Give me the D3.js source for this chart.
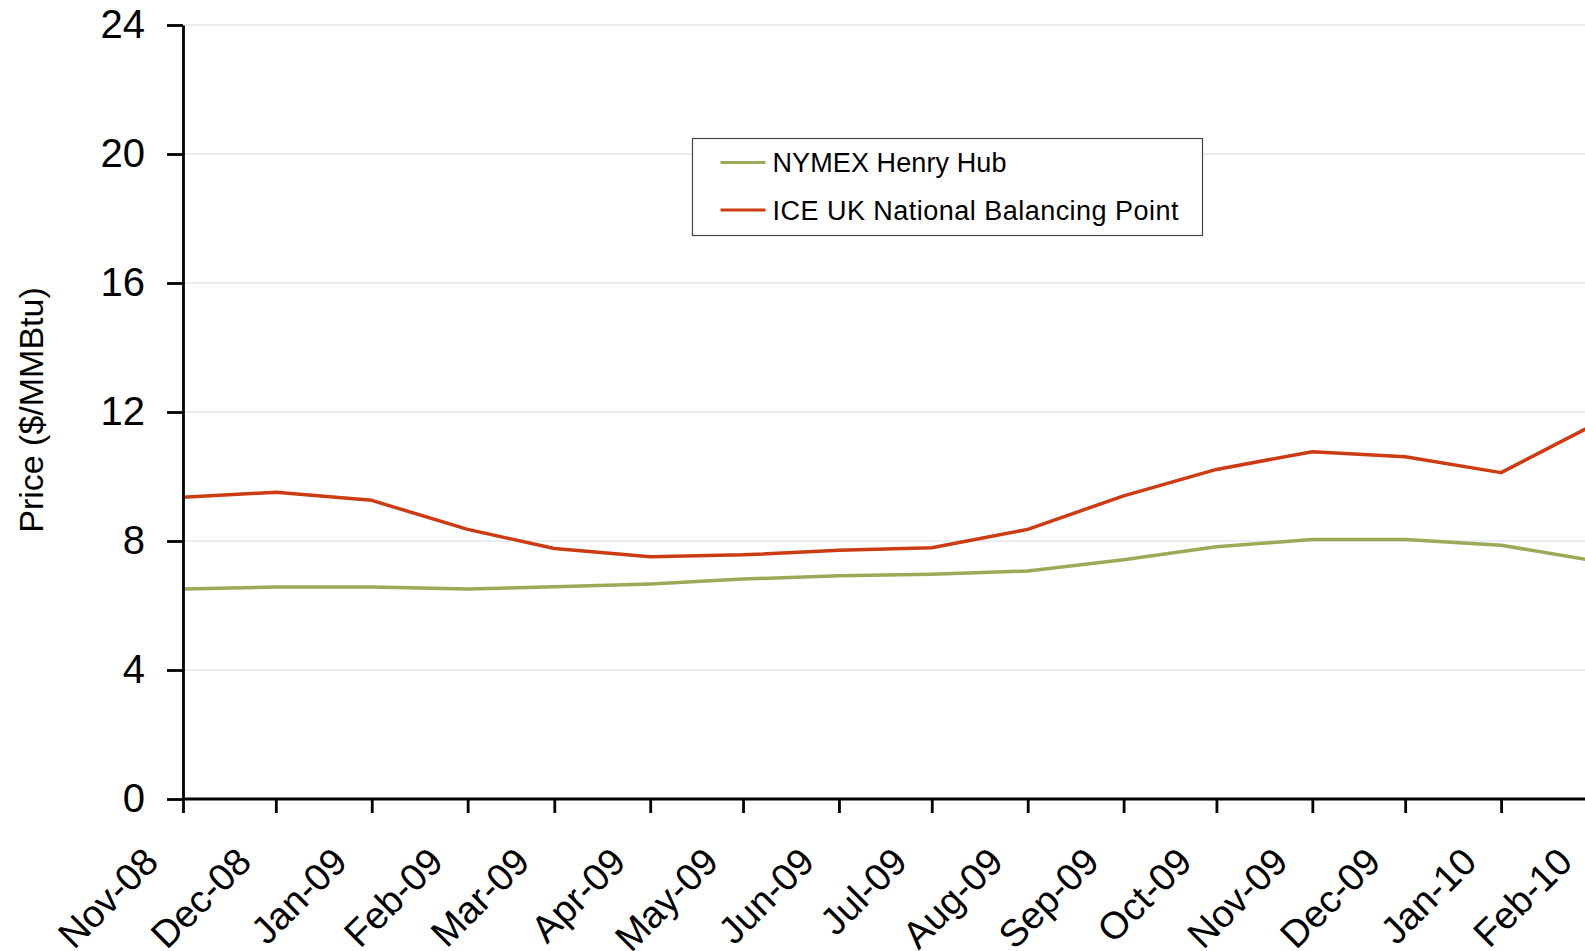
<!DOCTYPE html>
<html lang="en">
  <head>
    <meta charset="utf-8">
    <title>Henry Hub vs NBP</title>
    <script src="https://cdnjs.cloudflare.com/ajax/libs/d3/7.8.5/d3.min.js"></script>
    <style>
      body {
        margin: 0;
        background: #fff;
      }
      * {
        font-family: "Liberation Sans", Arial, sans-serif;
      }
      svg {
        display: block;
        overflow: hidden;
      }
      .line {
        fill: none;
        stroke-width: 3.5px;
        stroke-linejoin: round;
      }
      .grid line {
        stroke: #e1e9eb;
        stroke-width: 1.5px;
      }
      .axis path, .axis line {
        stroke: #000;
        stroke-width: 2.8px;
      }
    </style>
  </head>
  <body>
    <div id="vis"></div>
<script>
    // monthly values
    var months = ['Nov-08', 'Dec-08', 'Jan-09', 'Feb-09', 'Mar-09', 'Apr-09', 'May-09', 'Jun-09',
                  'Jul-09', 'Aug-09', 'Sep-09', 'Oct-09', 'Nov-09', 'Dec-09', 'Jan-10', 'Feb-10'];
    var henryHub = [6.51, 6.57, 6.57, 6.51, 6.58, 6.67, 6.82, 6.92,
                    6.97, 7.07, 7.42, 7.82, 8.05, 8.05, 7.87, 7.37];
    var nbp = [9.36, 9.51, 9.26, 8.36, 7.77, 7.51, 7.57, 7.71,
               7.79, 8.36, 9.40, 10.22, 10.77, 10.61, 10.12, 11.66];
    var yTicks = [0, 4, 8, 12, 16, 20, 24];
    var seriesNames = ['NYMEX Henry Hub', 'ICE UK National Balancing Point'];
    var seriesColors = ['#9aab58', '#cc3b12'];

    var width = 1585;
    var height = 951;

    var margin = {
        top: 25,
        left: 183
    };
    var plotBottom = 799;

    var svg = d3.select('#vis')
        .append('svg')
        .attr('width', width)
        .attr('height', height);

    var parseMonth = d3.timeParse('%b-%y');
    var dates = months.map(parseMonth);

    var x_scale = d3.scaleTime()
        .domain([dates[0], dates[dates.length - 1]])
        .range([margin.left, 1597]);

    var y_scale = d3.scaleLinear()
        .domain([0, 24])
        .range([plotBottom, margin.top]);

    // gridlines
    svg.append('g')
        .attr('class', 'grid')
        .selectAll('line')
        .data(yTicks.slice(1))
        .enter()
        .append('line')
        .attr('x1', margin.left)
        .attr('x2', width)
        .attr('y1', function(d) { return y_scale(d); })
        .attr('y2', function(d) { return y_scale(d); });

    var line = d3.line()
        .x(function(d, i) { return x_scale(dates[i]); })
        .y(function(d) { return y_scale(d); });

    svg.selectAll('.line')
        .data([henryHub, nbp])
        .enter()
        .append('path')
        .attr('class', 'line')
        .attr('stroke', function(d, i) { return seriesColors[i]; })
        .attr('d', line);

    var x_axis = d3.axisBottom(x_scale)
        .tickValues(dates)
        .tickFormat(d3.timeFormat('%b-%y'))
        .tickSize(14)
        .tickSizeOuter(0);

    var y_axis = d3.axisLeft(y_scale)
        .tickValues(yTicks)
        .tickSize(16)
        .tickSizeOuter(0)
        .tickPadding(22);

    var gx = svg.append('g')
        .attr('class', 'axis')
        .attr('transform', 'translate(0,' + plotBottom + ')')
        .call(x_axis);

    gx.select('.domain').attr('d', 'M' + margin.left + ',0H' + width);

    gx.selectAll('text')
        .attr('font-size', '38px')
        .attr('fill', '#000')
        .attr('text-anchor', 'end')
        .attr('x', -23)
        .attr('y', 65)
        .attr('dy', 0)
        .attr('transform', 'rotate(-45 -23 65)');

    var gy = svg.append('g')
        .attr('class', 'axis')
        .attr('transform', 'translate(' + margin.left + ',0)')
        .call(y_axis);

    gy.selectAll('text')
        .attr('font-size', '40px')
        .attr('fill', '#000');

    svg.append('text')
        .attr('transform', 'translate(43,410) rotate(-90)')
        .attr('text-anchor', 'middle')
        .attr('font-size', '34px')
        .text('Price ($/MMBtu)');

    // legend
    var legend = svg.append('g')
        .attr('transform', 'translate(692.5,138.5)');

    legend.append('rect')
        .attr('width', 510)
        .attr('height', 97)
        .attr('fill', '#fff')
        .attr('stroke', '#444')
        .attr('stroke-width', 1.2);

    var items = legend.selectAll('.item')
        .data(seriesNames)
        .enter()
        .append('g')
        .attr('transform', function(d, i) { return 'translate(0,' + (24 + i * 47.5) + ')'; });

    items.append('line')
        .attr('x1', 28)
        .attr('x2', 73)
        .attr('stroke-width', 3)
        .attr('stroke', function(d, i) { return seriesColors[i]; });

    items.append('text')
        .attr('x', 80)
        .attr('dy', '0.36em')
        .attr('font-size', '27px')
        .attr('textLength', function(d, i) { return i === 0 ? 234 : 406; })
        .text(function(d) { return d; });
</script>
  </body>
</html>
